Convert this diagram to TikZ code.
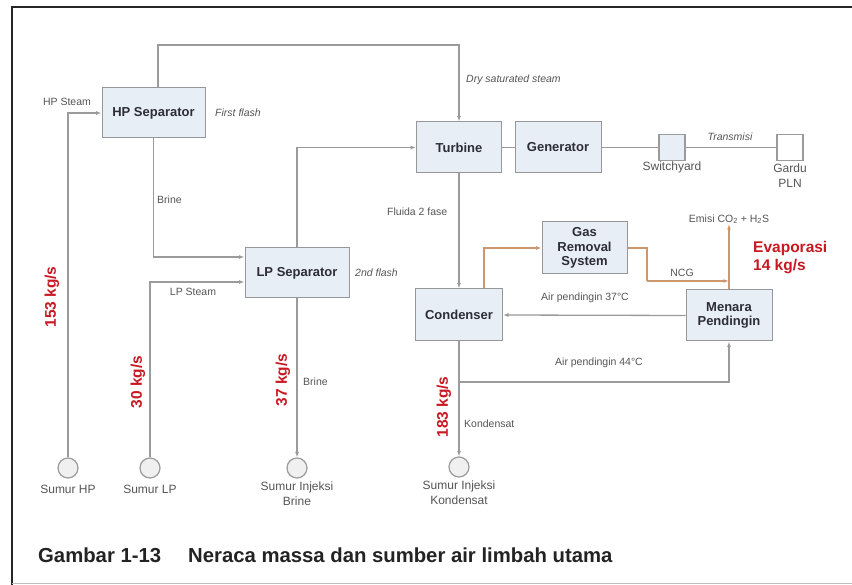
\documentclass[tikz,border=0pt]{standalone}
\usepackage{fontspec}
\setmainfont{Liberation Sans}
\usetikzlibrary{arrows.meta}
\definecolor{boxfill}{RGB}{232,238,246}
\definecolor{boxline}{RGB}{150,150,155}
\definecolor{lin}{RGB}{155,155,155}
\definecolor{lbl}{RGB}{85,85,85}
\definecolor{boxtxt}{RGB}{45,45,55}
\definecolor{redlbl}{RGB}{200,25,35}
\definecolor{ncgline}{RGB}{205,150,110}
\definecolor{capt}{RGB}{35,35,35}
\tikzset{
  unit/.style={draw=boxline, fill=boxfill, line width=1pt, inner sep=0pt, align=center,
     text=boxtxt, font=\fontsize{13}{14.5}\selectfont\bfseries},
  well/.style={circle, draw=lin, fill=black!6, line width=1.2pt, minimum size=20pt, inner sep=0pt},
  sq/.style={draw=lin, fill=boxfill, line width=1.2pt, minimum size=26pt, inner sep=0pt},
  small/.style={text=lbl, font=\fontsize{10.5}{12}\selectfont, inner sep=0pt},
  smallit/.style={text=lbl, font=\fontsize{10.5}{12}\selectfont\itshape, inner sep=0pt},
  welllbl/.style={text=lbl, font=\fontsize{12}{15}\selectfont, inner sep=0pt, align=center},
  flow/.style={text=redlbl, font=\fontsize{15.5}{18}\selectfont\bfseries, inner sep=0pt},
  pipe/.style={draw=lin, line width=1.3pt},
  arr/.style={pipe, -{Latex[length=5.5pt,width=4pt]}},
  oarr/.style={draw=ncgline, line width=1.3pt, -{Latex[length=5.5pt,width=4pt]}},
}
\begin{document}
\begin{tikzpicture}[x=1pt,y=-1pt]
\useasboundingbox (0,0) rectangle (852,585);
\clip (0,0) rectangle (852,585);
\fill[white] (0,0) rectangle (852,585);
% frame
\draw[line width=2.6pt, black!85] (12,600) -- (12,7) -- (870,7);
\draw[line width=0.6pt, black!25] (12,583) -- (870,583);

% units
\node[unit, minimum width=103pt, minimum height=50pt] (hp) at (153.5,113) {HP Separator};
\node[unit, minimum width=104pt, minimum height=50pt] (lp) at (297,273) {LP Separator};
\node[unit, minimum width=85pt, minimum height=51pt] (turb) at (459,147.5) {Turbine};
\node[unit, minimum width=86pt, minimum height=51pt] (gen) at (558,147.5) {Generator};
\node[unit, minimum width=87pt, minimum height=52pt] (cond) at (459,315) {Condenser};
\node[unit, minimum width=85pt, minimum height=52pt] (grs) at (584.5,248) {Gas\\Removal\\System};
\node[unit, minimum width=86pt, minimum height=51pt] (men) at (729,315.5) {Menara\\Pendingin};
\node[sq] (sw) at (672,147.5) {};
\node[sq, fill=white] (gardu) at (790,147.5) {};

% wells
\node[well] (shp) at (68,468) {};
\node[well] (slp) at (150,468) {};
\node[well] (sib) at (297,468) {};
\node[well] (sik) at (459,467) {};

% coordinates
\coordinate (top) at (459,45);
\coordinate (ncgend) at (729,281);
\coordinate (ncgturn) at (647,281);
\coordinate (split) at (459,382);
\node[small, anchor=south] (emisi) at (729,224) {Emisi CO\textsubscript{2} + H\textsubscript{2}S};

% connectors
\draw[arr] (shp.north) |- (hp.west);
\draw[arr] (slp.north) |- ([yshift=-9pt]lp.west);
\draw[arr] (hp.south) |- ([yshift=16pt]lp.west);
\draw[arr] ([xshift=4.5pt]hp.north) |- (top) -- (turb.north);
\draw[arr] (lp.north) |- (turb.west);
\draw[pipe] (turb.east) -- (gen.west);
\draw[pipe] (gen.east) -- (sw.west);
\draw[pipe] (sw.east) -- (gardu.west);
\draw[arr] (turb.south) -- (cond.north);
\draw[oarr] ([xshift=25pt]cond.north) |- (grs.west);
\draw[draw=ncgline, line width=1.3pt] (grs.east) -| (ncgturn);
\draw[oarr] (ncgturn) -- (ncgend);
\draw[oarr] (men.north) -- (emisi.south);
\draw[arr] (men.west) -- (cond.east);
\draw[arr] (cond.south) -- (sik.north);
\draw[arr] (split) -| (men.south);
\draw[arr] (lp.south) -- (sib.north);

% labels
\node[small] at (67,102) {HP Steam};
\node[smallit, anchor=west] at (215,113) {First flash};
\node[small, anchor=west] at (157,200) {Brine};
\node[smallit, anchor=west] at (466,80) {Dry saturated steam};
\node[smallit] at (730,137) {Transmisi};
\node[welllbl, anchor=north] at (672,162) {Switchyard};
\node[welllbl, anchor=north] at (790,164) {Gardu\\PLN};
\node[small, anchor=west] at (387,212) {Fluida 2 fase};
\node[smallit, anchor=west] at (355,273) {2nd flash};
\node[small] at (193,292) {LP Steam};
\node[small, anchor=west] at (303,382) {Brine};
\node[small, anchor=west] at (464,424) {Kondensat};
\node[small] at (585,298) {Air pendingin 37°C};
\node[small] at (599,363) {Air pendingin 44°C};
\node[small] at (682,273) {NCG};
\node[flow, anchor=west, align=left] at (753,258) {Evaporasi\\14 kg/s};

\node[flow, rotate=90] at (52,297) {153 kg/s};
\node[flow, rotate=90] at (138,382) {30 kg/s};
\node[flow, rotate=90] at (283,380) {37 kg/s};
\node[flow, rotate=90] at (444,407) {183 kg/s};

\node[welllbl, anchor=north] at (68,485) {Sumur HP};
\node[welllbl, anchor=north] at (150,485) {Sumur LP};
\node[welllbl, anchor=north] at (297,482) {Sumur Injeksi\\Brine};
\node[welllbl, anchor=north] at (459,481) {Sumur Injeksi\\Kondensat};

% caption
\node[anchor=base west, text=capt, font=\fontsize{20.3}{22}\selectfont\bfseries, inner sep=0pt] at (38,562) {Gambar 1-13};
\node[anchor=base west, text=capt, font=\fontsize{20.3}{22}\selectfont\bfseries, inner sep=0pt] at (188,562) {Neraca massa dan sumber air limbah utama};
\end{tikzpicture}
\end{document}
